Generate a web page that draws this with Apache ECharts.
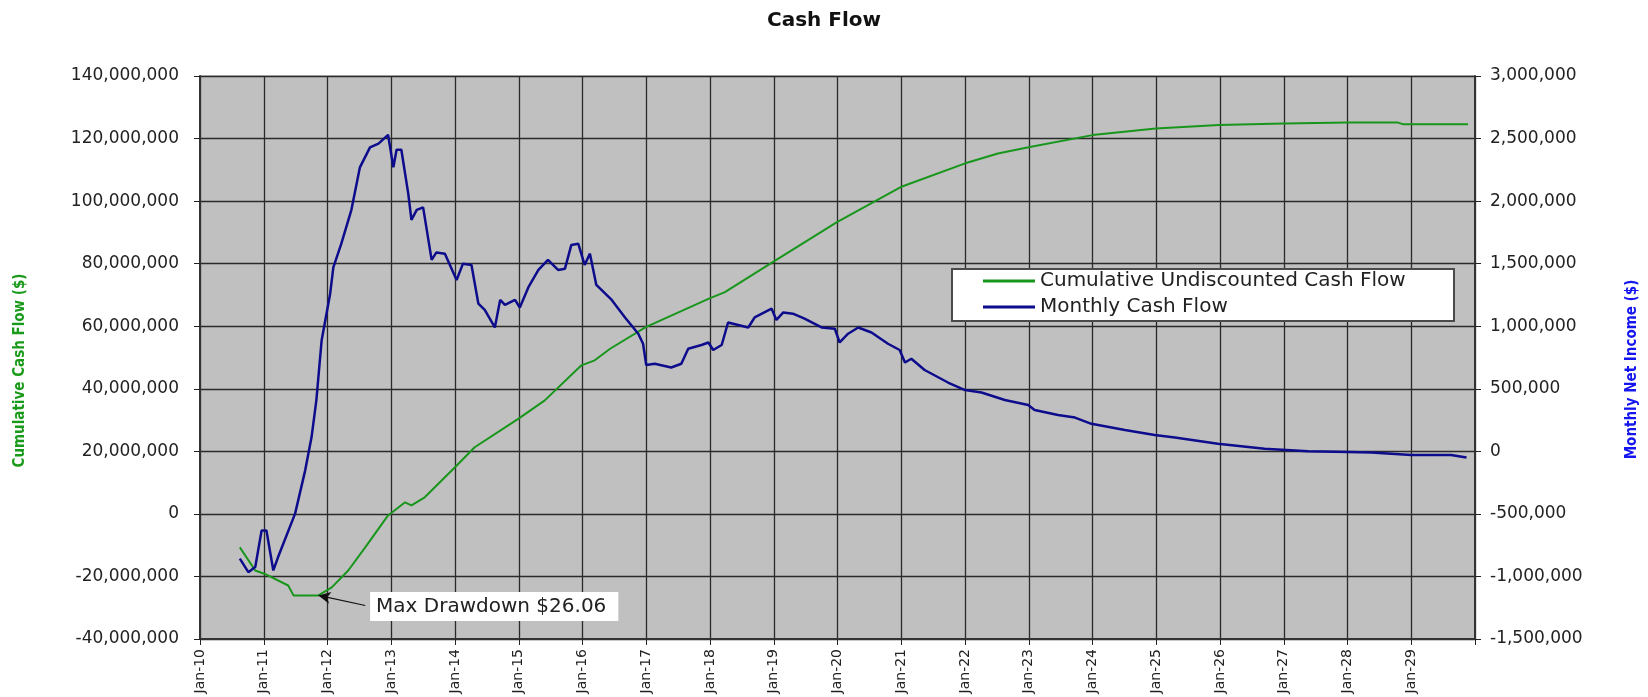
<!DOCTYPE html>
<html>
<head>
<meta charset="utf-8">
<title>Cash Flow</title>
<script src="https://cdn.jsdelivr.net/npm/echarts@6/dist/echarts.min.js"></script>
<style>
  html, body { margin: 0; padding: 0; background: #fff; }
  #chart { width: 1648px; height: 697px; }
</style>
</head>
<body>
<div id="chart"></div>
<script>
// x values are months counted from Jan-10
const yearTicks = ["Jan-10", "Jan-11", "Jan-12", "Jan-13", "Jan-14", "Jan-15", "Jan-16",
  "Jan-17", "Jan-18", "Jan-19", "Jan-20", "Jan-21", "Jan-22", "Jan-23", "Jan-24",
  "Jan-25", "Jan-26", "Jan-27", "Jan-28", "Jan-29"];

// Cumulative Undiscounted Cash Flow, $ millions
const cumMonths = [7.5, 10.4, 12.2, 16.6, 17.6, 22.3, 24.8, 27.9, 31.1, 35.4, 38.6, 39.8,
  42.3, 48.0, 51.7, 59.9, 64.9, 71.8, 74.3, 77.2, 83.9, 95.8, 98.8, 107.8, 119.9, 131.9,
  143.9, 150.2, 156.2, 168.0, 179.9, 191.8, 204.0, 216.1, 225.5, 226.4, 238.7];
const cumValues = [-10.7, -18.1, -19.2, -22.9, -26.06, -26.06, -23.5, -18.1, -10.7, -0.5,
  3.7, 2.7, 5.3, 14.9, 21.3, 30.4, 36.3, 47.5, 49.1, 52.8, 59.7, 68.8, 70.9, 80.5, 93.3,
  104.5, 112.0, 115.2, 117.3, 121.1, 123.2, 124.3, 124.8, 125.1, 125.1, 124.6, 124.6];

// Monthly Cash Flow, $ thousands
const flowMonths = [7.5, 9.1, 10.4, 11.6, 12.5, 13.8, 14.7, 17.9, 19.8, 21.0, 21.9, 22.9,
  24.5, 25.1, 26.6, 28.5, 30.1, 32.0, 33.6, 35.4, 36.4, 37.0, 37.9, 39.2, 39.8, 40.8, 42.0,
  43.6, 44.5, 46.1, 48.3, 49.5, 51.1, 52.4, 53.6, 55.5, 56.5, 57.4, 59.3, 60.2, 61.8, 63.7,
  65.5, 67.4, 68.7, 69.9, 71.2, 72.4, 73.4, 74.6, 77.5, 80.0, 82.5, 83.4, 84.0, 85.6, 88.7,
  90.6, 91.9, 94.4, 95.7, 96.6, 98.2, 99.4, 101.3, 103.2, 104.4, 107.6, 108.5, 109.8, 111.6,
  113.8, 117.0, 119.5, 120.4, 122.0, 123.9, 126.4, 129.5, 131.7, 132.7, 133.9, 136.4, 140.8,
  144.0, 147.1, 151.5, 155.9, 157.1, 161.5, 164.7, 167.8, 174.1, 179.7, 183.5, 191.6, 200.4,
  208.6, 216.1, 220.5, 228.0, 235.5, 238.4];
const flowValues = [-858, -966, -925, -632, -632, -952, -845, -498, -152, 114, 408, 888,
  1260, 1470, 1660, 1930, 2270, 2430, 2460, 2530, 2270, 2410, 2410, 2060, 1850, 1930, 1950,
  1530, 1590, 1580, 1370, 1500, 1490, 1180, 1130, 990, 1210, 1170, 1210, 1150, 1310, 1450,
  1530, 1450, 1460, 1650, 1660, 1490, 1580, 1330, 1210, 1070, 940, 860, 690, 700, 670,
  700, 820, 850, 870, 810, 850, 1030, 1010, 990, 1070, 1140, 1050, 1110, 1100,
  1060, 990, 980, 870, 940, 990, 950, 860, 810, 710, 740, 650, 550,
  490, 470, 410, 370, 330, 290, 270, 220, 170, 130, 110, 60, 20,
  0, -5, -10, -30, -30, -50];

// max drawdown callout: point on the curve and where the label sits ($ millions)
const drawdownPoint = [22.3, -26.06];
const drawdownLabelAt = [31.1, -29.3];
const drawdownText = "Max Drawdown $26.06";

const cumData = cumMonths.map((m, i) => [m, cumValues[i] * 1e6]);
const flowData = flowMonths.map((m, i) => [m, flowValues[i] * 1e3]);

const font = "DejaVu Sans";
const fmt = v => v.toLocaleString("en-US");

const myChart = echarts.init(document.getElementById("chart"));
const option = {
  animation: false,
  backgroundColor: "#fff",
  title: {
    text: "Cash Flow",
    left: "center",
    top: 6,
    textStyle: { fontFamily: font, fontSize: 20, fontWeight: "bold", color: "#111" }
  },
  grid: {
    left: 200, right: 173, top: 76, bottom: 58,
    show: true,
    backgroundColor: "#c0c0c0",
    borderColor: "#8a8a8a",
    borderWidth: 1
  },
  legend: {
    orient: "vertical",
    left: 983,
    top: 270,
    padding: 0,
    itemGap: 4,
    itemWidth: 52,
    itemHeight: 3,
    icon: "rect",
    z: 6,
    textStyle: { fontFamily: font, fontSize: 20, color: "#222", lineHeight: 22 },
    data: ["Cumulative Undiscounted Cash Flow", "Monthly Cash Flow"]
  },
  graphic: [{
    type: "rect",
    left: 951, top: 268,
    shape: { width: 502, height: 52 },
    style: { fill: "#fff", stroke: "#4a4a4a", lineWidth: 2 },
    z: 5
  }],
  xAxis: {
    type: "value",
    min: 0, max: 240, interval: 12,
    axisLine: { onZero: false, lineStyle: { color: "#333", width: 2 } },
    axisTick: { show: true, inside: false, length: 6, lineStyle: { color: "#222" } },
    axisLabel: {
      rotate: 90,
      margin: 10,
      fontFamily: font,
      fontSize: 14,
      color: "#222",
      formatter: v => yearTicks[v / 12] || ""
    },
    splitLine: { show: true, lineStyle: { color: "#2a2a2a", width: 1.3 } }
  },
  yAxis: [
    {
      type: "value",
      min: -40000000, max: 140000000, interval: 20000000,
      name: "Cumulative Cash Flow ($)",
      nameLocation: "middle",
      nameRotate: 90,
      nameGap: 172,
      nameTextStyle: {
        color: "#1a9a1a", fontFamily: "DejaVu Sans Condensed", fontWeight: "bold",
        fontSize: 15, padding: [0, 26, 0, 0]
      },
      axisLine: { show: true, lineStyle: { color: "#333", width: 2 } },
      axisTick: { show: true, length: 6, lineStyle: { color: "#222" } },
      axisLabel: { margin: 21, fontFamily: font, fontSize: 17, color: "#222", formatter: fmt },
      splitLine: { show: true, lineStyle: { color: "#2a2a2a", width: 1.3 } }
    },
    {
      type: "value",
      min: -1500000, max: 3000000, interval: 500000,
      name: "Monthly Net Income ($)",
      nameLocation: "middle",
      nameRotate: 90,
      nameGap: 150,
      nameTextStyle: {
        color: "#1515f0", fontFamily: "DejaVu Sans Condensed", fontWeight: "bold",
        fontSize: 15, padding: [0, 24, 0, 0]
      },
      axisLine: { show: true, lineStyle: { color: "#333", width: 2 } },
      axisTick: { show: true, length: 6, lineStyle: { color: "#222" } },
      axisLabel: { margin: 15, fontFamily: font, fontSize: 17, color: "#222", formatter: fmt },
      splitLine: { show: false }
    }
  ],
  series: [
    {
      name: "Cumulative Undiscounted Cash Flow",
      type: "line",
      yAxisIndex: 0,
      symbol: "none",
      color: "#18961c",
      lineStyle: { width: 2 },
      data: cumData,
      markLine: {
        silent: true,
        symbol: ["arrow", "none"],
        symbolSize: [9, 12],
        lineStyle: { color: "#111", width: 1.2, type: "solid" },
        label: {
          show: true,
          position: "end",
          formatter: drawdownText,
          backgroundColor: "#fff",
          padding: [5, 12, 4, 6],
          fontFamily: font,
          fontSize: 20,
          color: "#222"
        },
        data: [[
          { coord: [drawdownPoint[0], drawdownPoint[1] * 1e6] },
          { coord: [drawdownLabelAt[0], drawdownLabelAt[1] * 1e6] }
        ]]
      }
    },
    {
      name: "Monthly Cash Flow",
      type: "line",
      yAxisIndex: 1,
      symbol: "none",
      color: "#0c0c8c",
      lineStyle: { width: 2.5 },
      data: flowData
    }
  ]
};
myChart.setOption(option);
</script>
</body>
</html>
